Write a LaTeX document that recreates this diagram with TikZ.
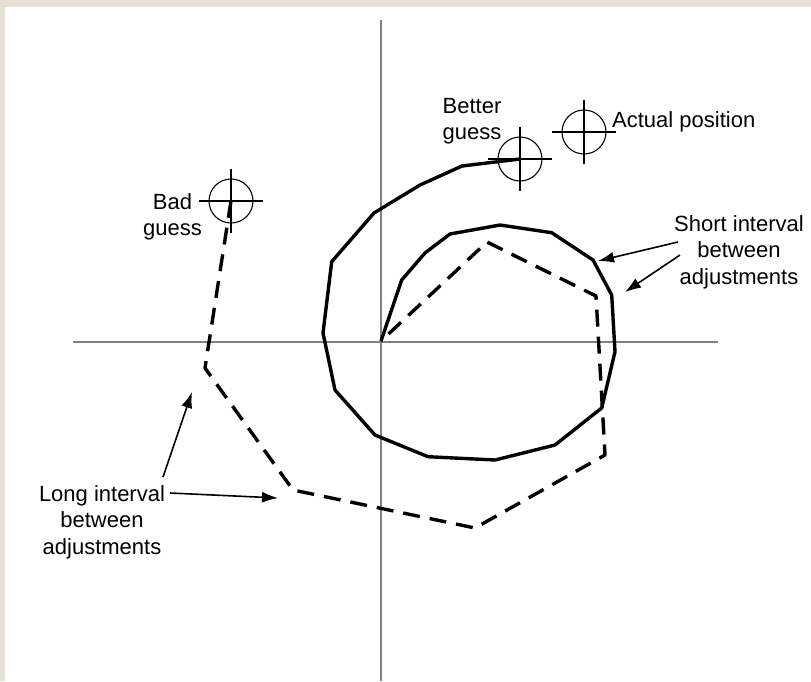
\documentclass[tikz,border=0pt]{standalone}
\usepackage{fontspec}
\setmainfont{Liberation Sans}
\usetikzlibrary{arrows.meta}
\definecolor{beigebg}{RGB}{228,224,212}
\definecolor{axisgray}{RGB}{128,128,128}
\newcommand\mycrosshair[1]{%
  \draw[crossline] (#1) circle[radius=22];
  \draw[crossline] ([xshift=-32pt]#1) -- ([xshift=32pt]#1);
  \draw[crossline] ([yshift=-32pt]#1) -- ([yshift=32pt]#1);}
\begin{document}
\begin{tikzpicture}[x=1pt,y=-1pt,
  axisline/.style={draw=axisgray,line width=2.8pt},
  solidpath/.style={line width=3.4pt,line join=round},
  dashpath/.style={line width=3.4pt,line join=round,dash pattern=on 17pt off 10pt},
  callout/.style={line width=1.6pt,-{Latex[length=16pt,width=11pt]}},
  lbl/.style={font=\fontsize{22}{26.5}\selectfont,align=center,inner sep=0pt},
  crossline/.style={line width=1.1pt}]
\useasboundingbox (0,0) rectangle (811,681);
\fill[beigebg] (0,0) rectangle (811,681);
\fill[white] (5,7) rectangle (811,681);

% axes
\coordinate (ytop) at (381,20);
\coordinate (ybot) at (381,681);
\coordinate (xleft) at (73,342);
\coordinate (xright) at (718,342);
\draw[axisline] (ytop) -- (ybot);
\draw[axisline] (xleft) -- (xright);

% crosshair centres
\coordinate (bad) at (231,201);
\coordinate (better) at (520,159);
\coordinate (actual) at (584,132);
\coordinate (origin) at (381,341);

\mycrosshair{bad}
\mycrosshair{better}
\mycrosshair{actual}

% solid path (short interval)
\draw[solidpath] (origin) -- (401.7,280) -- (425,253) -- (450,234) -- (500,225)
  -- (551.7,232.7) -- (593,260) -- (611.7,295) -- (615,351.7) -- (601.7,408)
  -- (555,445) -- (495,460) -- (428,456.7) -- (375,435) -- (335,390)
  -- (323,333) -- (331.7,261.7) -- (374,213) -- (420,185) -- (462,166) -- (better);

% dashed path (long interval)
\draw[dashpath] (bad) -- (205,368) -- (293,490) -- (475,528) -- (605,455)
  -- (596,296) -- (487,242) -- (origin);

% labels
\node[lbl,anchor=north] (badlbl) at (172.5,193) {Bad\\guess};
\node[lbl,anchor=north] (betterlbl) at (472,98) {Better\\guess};
\node[lbl,anchor=base west] (actuallbl) at (612,127) {Actual position};
\node[lbl,anchor=north] (shortlbl) at (739,215) {Short interval\\between\\adjustments};
\node[lbl,anchor=north] (longlbl) at (102,485) {Long interval\\between\\adjustments};

% callout arrows
\coordinate (s1a) at (678,242); \coordinate (s1b) at (598,261);
\coordinate (s2a) at (680,255); \coordinate (s2b) at (625,292);
\coordinate (l1a) at (163,477); \coordinate (l1b) at (192,392);
\coordinate (l2a) at (170,493); \coordinate (l2b) at (278,498);
\draw[callout] (s1a) -- (s1b);
\draw[callout] (s2a) -- (s2b);
\draw[callout] (l1a) -- (l1b);
\draw[callout] (l2a) -- (l2b);
\end{tikzpicture}
\end{document}
